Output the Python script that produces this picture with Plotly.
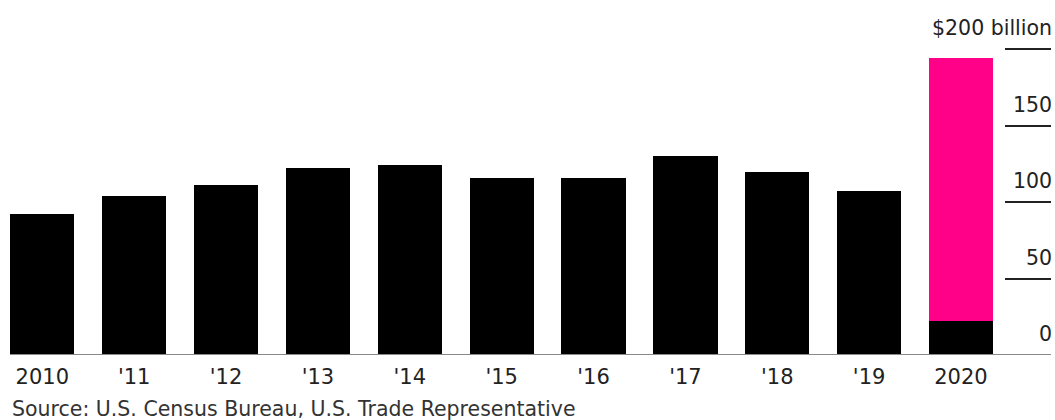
import plotly.graph_objects as go

years = ["2010", "'11", "'12", "'13", "'14", "'15", "'16", "'17", "'18", "'19", "2020"]
base_values = [92, 104, 111, 122, 124, 116, 116, 130, 120, 107, 22]
extra_values = [None, None, None, None, None, None, None, None, None, None, 172]
y_tickvals = [0, 50, 100, 150, 200]
y_ticktext = ["0", "50", "100", "150", "$200 billion"]
source_text = "Source: U.S. Census Bureau, U.S. Trade Representative"

FONT = "DejaVu Sans"
TXT = "#222222"

fig = go.Figure()
fig.add_trace(go.Bar(x=years, y=base_values, marker=dict(color="#000000", line=dict(width=0)),
                     hoverinfo="x+y"))
fig.add_trace(go.Bar(x=years, y=extra_values, marker=dict(color="#FF0088", line=dict(width=0)),
                     hoverinfo="x+y"))

annotations = [dict(text=source_text, xref="paper", yref="paper", x=0, y=-0.171,
                    xanchor="left", yanchor="middle", showarrow=False,
                    font=dict(family=FONT, size=20.5, color="#333333"))]
for v, t in zip(y_tickvals, y_ticktext):
    annotations.append(dict(text=t, xref="paper", yref="y", x=1, y=v,
                            xanchor="right", yanchor="bottom", yshift=7, xshift=3,
                            showarrow=False,
                            font=dict(family=FONT, size=20.5, color=TXT)))

fig.update_layout(
    barmode="stack",
    bargap=0.30,
    width=1055, height=420,
    margin=dict(l=10, r=4, t=40, b=65, autoexpand=False),
    paper_bgcolor="white", plot_bgcolor="white",
    showlegend=False,
    font=dict(family=FONT, size=20, color=TXT),
    xaxis=dict(
        type="category",
        range=[-0.352, 10.98],
        automargin=False,
        showgrid=False, zeroline=False, showline=False,
        ticks="", tickfont=dict(family=FONT, size=21, color=TXT),
        ticklabelstandoff=7,
    ),
    yaxis=dict(
        side="right",
        range=[0, 206],
        automargin=False,
        tickvals=y_tickvals, showticklabels=False,
        ticks="inside", ticklen=46, tickwidth=1.5, tickcolor="#222222",
        showgrid=False, zeroline=False, showline=False,
    ),
    shapes=[dict(type="line", xref="paper", x0=0, x1=1, yref="y", y0=0, y1=0,
                 line=dict(color="#8a8a8a", width=2), layer="above")],
    annotations=annotations,
)

fig.write_html(
    "out.html",
    config={"displayModeBar": False},
    post_script="document.body.style.margin='0';"
                "document.documentElement.style.overflow='hidden';"
                "document.body.style.overflow='hidden';",
)
